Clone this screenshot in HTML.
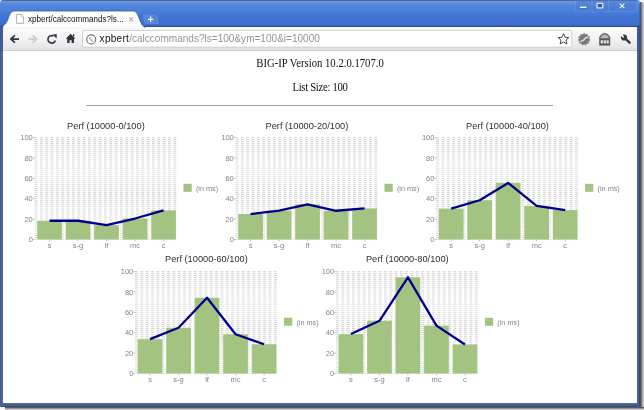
<!DOCTYPE html>
<html lang="en">
<head>
<meta charset="utf-8">
<title>xpbert/calccommands?ls=100&amp;ym=100&amp;i=10000</title>
<style>
html,body{margin:0;padding:0;}
body{width:644px;height:410px;overflow:hidden;background:#f8f5ef;position:relative;font-family:"Liberation Sans",sans-serif;}
#win{position:absolute;left:0;top:0;width:640.4px;height:406.7px;background:#fff;border-radius:3px 4px 0 1.5px;}
#shr{position:absolute;left:640.2px;top:2px;width:3.8px;height:408px;background:linear-gradient(to right,#3c3f49 0,#626266 25%,#9c9ca0 55%,#cacace 85%,#d6d6da 100%);border-radius:0 3px 0 0;}
#shb{position:absolute;left:4.5px;top:406.5px;width:639.5px;height:3.5px;background:linear-gradient(to bottom,#3c3f49 0,#66666a 25%,#a19f9e 55%,#cbc8c4 85%,#d4d0cb 100%);}
#bl{position:absolute;left:0;top:50.5px;width:3.05px;height:355.5px;background:linear-gradient(to right,#3e5c96,#456399 60%,#53709f);z-index:3;}
#br{z-index:3;position:absolute;left:636.8px;top:50.5px;width:3.6px;height:356.2px;background:linear-gradient(to right,#54709f 0,#436192 30%,#3b5680 75%,#36415a 100%);}
#bb{position:absolute;left:0;top:402.8px;width:640.4px;height:3.9px;background:linear-gradient(to bottom,#5875a0 0,#466391 30%,#3d5985 70%,#38445c 100%);border-radius:0 0 0 1.5px;}
#chrome{position:absolute;left:0;top:0;}
#content{position:absolute;left:3px;top:51px;width:633.9px;height:351.8px;background:#fff;}
.pt{position:absolute;left:0;width:634px;text-align:center;transform:scaleY(1.07);transform-origin:50% 80%;font-family:"Liberation Serif",serif;font-size:10.7px;color:#111;line-height:12px;white-space:nowrap;}
#hr{position:absolute;left:82.6px;top:54px;width:467.4px;height:1px;background:#a6a6a6;}
#charts{position:absolute;left:0;top:0;}
.ax{font-family:"Liberation Sans",sans-serif;font-size:7.5px;fill:#848484;}
.tt{font-family:"Liberation Sans",sans-serif;font-size:9.25px;fill:#303030;}
.lg{font-family:"Liberation Sans",sans-serif;font-size:7.3px;fill:#868686;}
.tabtxt{position:absolute;left:28px;top:14.3px;font-size:8.7px;color:#111;white-space:nowrap;line-height:10px;transform:scaleX(0.93);transform-origin:0 50%;}
.url{position:absolute;left:99.6px;top:33.2px;font-size:10.05px;color:#939393;white-space:nowrap;line-height:12px;}
.url .host{color:#111;letter-spacing:0.27px;}
</style>
</head>
<body>
<div id="shr"></div><div id="shb"></div>
<div id="win">
  <div id="bl"></div><div id="br"></div><div id="bb"></div>
  <div id="content">
    <div class="pt" style="top:5.9px;font-size:10.68px">BIG-IP Version 10.2.0.1707.0</div>
    <div class="pt" style="top:30.3px;letter-spacing:-0.3px">List Size: 100</div>
    <div id="hr"></div>
  </div>
  
<svg id="chrome" width="644" height="51" viewBox="0 0 644 51">
<defs>
<linearGradient id="tb" x1="0" y1="0" x2="0" y2="1">
<stop offset="0" stop-color="#46619a"/>
<stop offset="0.025" stop-color="#4b6aa8"/>
<stop offset="0.05" stop-color="#6d97dc"/>
<stop offset="0.09" stop-color="#6591d9"/>
<stop offset="0.19" stop-color="#5189de"/>
<stop offset="0.4" stop-color="#4a80da"/>
<stop offset="0.6" stop-color="#4275d4"/>
<stop offset="0.9" stop-color="#3e6ece"/>
<stop offset="0.94" stop-color="#3a68c4"/>
<stop offset="0.96" stop-color="#2d4d92"/>
<stop offset="1" stop-color="#2d4d92"/>
</linearGradient>
<linearGradient id="tool" x1="0" y1="0" x2="0" y2="1">
<stop offset="0" stop-color="#fdfdfe"/>
<stop offset="0.5" stop-color="#f3f3f4"/>
<stop offset="1" stop-color="#e3e3e4"/>
</linearGradient>
</defs>
<!-- title bar -->

<path d="M0 27.1V3Q0 0 3 0H636.5Q640.4 0 640.4 4V27.1Z" fill="url(#tb)"/>

<!-- side borders beside toolbar -->
<rect x="0" y="27" width="3.05" height="24" fill="#3c5ca2"/>
<rect x="636.8" y="27" width="3.6" height="24" fill="#3a5a9e"/>
<rect x="639.6" y="4" width="0.8" height="47" fill="#33466e" opacity="0.8"/>
<!-- toolbar -->
<rect x="3" y="27.1" width="634" height="23.1" fill="url(#tool)"/>
<rect x="3" y="49.8" width="634" height="1.3" fill="#cfcfd0"/>
<!-- tab -->
<path d="M3 27.6 V25.6 C6.5 24 7.2 21 8.6 17.5 C10 13.6 11.2 11 15 11 H132.5 C136.3 11 137.4 13.6 138.8 17.5 C140.2 21 141.4 25 144.8 27.6 Z" fill="#fcfcfd" stroke="#2e4e94" stroke-width="0.7"/>
<rect x="3.2" y="26.9" width="141" height="1.4" fill="#fcfcfd"/>
<!-- page icon -->
<path d="M16.6 14.4 H21.2 L23.6 16.9 V23.3 H16.6 Z" fill="#fff" stroke="#9b9b9b" stroke-width="0.8"/>
<path d="M21 14.6 V17.1 H23.4" fill="none" stroke="#b5b5b5" stroke-width="0.6"/>
<!-- tab close -->
<path d="M129.1 17.3 L133.2 21.4 M133.2 17.3 L129.1 21.4" stroke="#a9a9a9" stroke-width="1.1" fill="none"/>
<!-- new tab button -->
<path d="M143.4 15 H155 C156.4 15 157 16 157.4 17.4 L158.6 22 C158.9 23 158.4 23.4 157.4 23.4 H146.6 C145.4 23.4 144.8 22.6 144.4 21.4 Z" fill="#5c8bdc" stroke="#7fa5e6" stroke-width="0.5" opacity="0.75"/>
<path d="M150.6 16.6 V22 M147.9 19.3 H153.3" stroke="#fff" stroke-width="1.2" fill="none"/>
<!-- window buttons -->
<path d="M575.5 0 V10.2 Q575.5 11.3 576.8 11.3 H635 Q636.4 11.3 636.4 10 V0" fill="#4a78cf" fill-opacity="0.45" stroke="#7ea2e2" stroke-opacity="0.7" stroke-width="0.6"/>
<path d="M591.8 0V11.3 M608.4 0V11.3" stroke="#7ea2e2" stroke-opacity="0.7" stroke-width="0.6"/>
<rect x="580" y="6.6" width="6.4" height="1.5" fill="#f4f7fc"/><rect x="580" y="8.1" width="6.4" height="0.7" fill="#2f4f98" opacity="0.7"/>
<rect x="597.0" y="3.3" width="5.8" height="4.6" fill="#3c5ea8" stroke="#eef2fa" stroke-width="1.1"/>
<path d="M619.8 3.6 L624.4 8.2 M624.4 3.6 L619.8 8.2" stroke="#eef2fa" stroke-width="1.2" fill="none"/>
<!-- nav icons -->
<path d="M14.9 35.3 L10.9 39 L14.9 42.7 M11.2 39 H19" fill="none" stroke="#2e3442" stroke-width="1.75" stroke-linejoin="miter"/>
<path d="M32.6 35.3 L36.6 39 L32.6 42.7 M36.3 39 H28.4" fill="none" stroke="#cbcbce" stroke-width="1.75" stroke-linejoin="miter"/>
<path d="M55.3 40.4 A3.75 3.75 0 1 1 53.4 36" fill="none" stroke="#2e3442" stroke-width="1.6"/>
<path d="M52.4 34.4 L56.8 34.3 L56.6 38.6 Z" fill="#2e3442"/>
<path d="M65.8 38.7 L70.6 33.7 L75.4 38.7 H74 V43 H71.6 V40.3 H69.6 V43 H67.2 V38.7 Z" fill="#2e3442"/>
<rect x="73" y="34.1" width="1.3" height="2.4" fill="#2e3442"/>
<!-- omnibox -->
<rect x="82.6" y="30.4" width="489.2" height="16.8" rx="1.6" fill="#fff" stroke="#c3c3c6" stroke-width="0.8"/>
<!-- globe -->
<circle cx="91.2" cy="39.4" r="4.5" fill="#fdfdfd" stroke="#767676" stroke-width="1.15"/>
<path d="M88.6 37.4 Q89.6 36.4 91.2 36.7 Q90.6 37.8 89.9 38 Q90.4 39.2 91.4 39.6 Q92.8 40 93.2 41.4 Q92.2 42.2 91.4 41.6 Q90.8 40.4 89.6 39.8 Q88.6 38.8 88.6 37.4 Z" fill="#b9b9b9"/>
<!-- star -->
<path d="M563.5 33.7 L565.05 37.3 L568.9 37.6 L566 40.15 L566.9 44 L563.5 42 L560.1 44 L561 40.15 L558.1 37.6 L561.95 37.3 Z" fill="#fff" stroke="#3c3c3c" stroke-width="0.95" stroke-linejoin="round"/>
<!-- gear extension -->
<path d="M584.10 33.10 L585.48 34.60 L587.45 34.08 L587.80 36.09 L589.74 36.72 L588.95 38.60 L590.24 40.18 L588.56 41.34 L588.79 43.36 L586.75 43.42 L585.85 45.25 L584.10 44.20 L582.35 45.25 L581.45 43.42 L579.41 43.36 L579.64 41.34 L577.96 40.18 L579.25 38.60 L578.46 36.72 L580.40 36.09 L580.75 34.08 L582.72 34.60Z" fill="#828286" stroke="#8f8f93" stroke-width="0.6" stroke-linejoin="round"/>
<circle cx="584.1" cy="39.3" r="4.2" fill="#77777c"/>
<path d="M581.2 41.3 Q583.4 40.9 584.4 39.2 Q585.4 37.4 587.6 37.3" fill="none" stroke="#eeeef2" stroke-width="1.5" stroke-linecap="round" opacity="0.9"/>
<!-- box extension -->
<path d="M599.5 37.1 L601.6 34.4 L604.7 33.2 L607.8 34.4 L609.9 37.1 V45.3 H599.5 Z" fill="#58585b" stroke="#4a4a4d" stroke-width="0.5" stroke-linejoin="round"/>
<path d="M600.6 37.3 L602.2 35.2 L604.7 34.3 L607.2 35.2 L608.8 37.3 V38.3 H600.6 Z" fill="#b9b9bc"/>
<rect x="600.7" y="40.3" width="2.3" height="3.1" fill="#e4e4e6"/>
<rect x="603.6" y="40.3" width="2.3" height="3.1" fill="#e4e4e6"/>
<rect x="606.5" y="40.3" width="2.3" height="3.1" fill="#e4e4e6"/>
<!-- wrench -->
<path d="M625.1 38.4 L629.6 42.7" stroke="#343c4e" stroke-width="2.5" stroke-linecap="round" fill="none"/>
<circle cx="624" cy="37.5" r="3.1" fill="#343c4e"/>
<path d="M623.8 37.3 L619.9 35.7 L622.1 33.3 Z" fill="#f5f5f6"/>
<circle cx="623.2" cy="36.7" r="0.9" fill="#f5f5f6"/>
</svg>

  <div class="tabtxt">xpbert/calccommands?ls...</div>
  <div class="url"><span class="host">xpbert</span>/calccommands?ls=100&amp;ym=100&amp;i=10000</div>
</div>
<svg id="charts" width="644" height="410" viewBox="0 0 644 410">
<defs>
<pattern id="grid" width="5.34" height="2.038" patternUnits="userSpaceOnUse" x="34.5" y="137.1">
<rect x="0" y="0" width="3.0" height="0.9" fill="#d2d2d2"/>
</pattern>
</defs>
<g transform="translate(0,0)">
<rect x="34.3" y="137.1" width="142.40" height="102.40" fill="url(#grid)"/>
<path d="M34.3 239.5H176.7" fill="none" stroke="#dcdcdc" stroke-width="0.5"/>
<path d="M33 239.50H34.9" stroke="#aaa" stroke-width="0.7"/>
<text x="32.8" y="242.15" text-anchor="end" class="ax">0</text>
<path d="M33 219.12H34.9" stroke="#aaa" stroke-width="0.7"/>
<text x="32.8" y="221.77" text-anchor="end" class="ax">20</text>
<path d="M33 198.74H34.9" stroke="#aaa" stroke-width="0.7"/>
<text x="32.8" y="201.39" text-anchor="end" class="ax">40</text>
<path d="M33 178.36H34.9" stroke="#aaa" stroke-width="0.7"/>
<text x="32.8" y="181.01" text-anchor="end" class="ax">60</text>
<path d="M33 157.98H34.9" stroke="#aaa" stroke-width="0.7"/>
<text x="32.8" y="160.63" text-anchor="end" class="ax">80</text>
<path d="M33 137.60H34.9" stroke="#aaa" stroke-width="0.7"/>
<text x="32.8" y="140.25" text-anchor="end" class="ax">100</text>
<rect x="37.20" y="220.75" width="24.7" height="18.75" fill="#a2c480"/>
<path d="M49.55 239.5v1.8" stroke="#aaa" stroke-width="0.7"/>
<text x="49.55" y="248.30" text-anchor="middle" class="ax">s</text>
<rect x="65.70" y="220.75" width="24.7" height="18.75" fill="#a2c480"/>
<path d="M78.05 239.5v1.8" stroke="#aaa" stroke-width="0.7"/>
<text x="78.05" y="248.30" text-anchor="middle" class="ax">s-g</text>
<rect x="94.20" y="225.23" width="24.7" height="14.27" fill="#a2c480"/>
<path d="M106.55 239.5v1.8" stroke="#aaa" stroke-width="0.7"/>
<text x="106.55" y="248.30" text-anchor="middle" class="ax">lf</text>
<rect x="122.70" y="218.51" width="24.7" height="20.99" fill="#a2c480"/>
<path d="M135.05 239.5v1.8" stroke="#aaa" stroke-width="0.7"/>
<text x="135.05" y="248.30" text-anchor="middle" class="ax">mc</text>
<rect x="151.20" y="210.36" width="24.7" height="29.14" fill="#a2c480"/>
<path d="M163.55 239.5v1.8" stroke="#aaa" stroke-width="0.7"/>
<text x="163.55" y="248.30" text-anchor="middle" class="ax">c</text>
<polyline points="49.55,220.75 78.05,220.75 106.55,225.23 135.05,218.51 163.55,210.36" fill="none" stroke="#00008f" stroke-width="2.3" stroke-linejoin="round" stroke-linecap="butt"/>
<text x="105.9" y="128.8" text-anchor="middle" class="tt">Perf (10000-0/100)</text>
<rect x="183.5" y="183.8" width="8.2" height="8" fill="#a2c480"/>
<text x="195.9" y="190.6" class="lg">(in ms)</text>
</g>
<g transform="translate(201,0)">
<rect x="34.3" y="137.1" width="142.40" height="102.40" fill="url(#grid)"/>
<path d="M34.3 239.5H176.7" fill="none" stroke="#dcdcdc" stroke-width="0.5"/>
<path d="M33 239.50H34.9" stroke="#aaa" stroke-width="0.7"/>
<text x="32.8" y="242.15" text-anchor="end" class="ax">0</text>
<path d="M33 219.12H34.9" stroke="#aaa" stroke-width="0.7"/>
<text x="32.8" y="221.77" text-anchor="end" class="ax">20</text>
<path d="M33 198.74H34.9" stroke="#aaa" stroke-width="0.7"/>
<text x="32.8" y="201.39" text-anchor="end" class="ax">40</text>
<path d="M33 178.36H34.9" stroke="#aaa" stroke-width="0.7"/>
<text x="32.8" y="181.01" text-anchor="end" class="ax">60</text>
<path d="M33 157.98H34.9" stroke="#aaa" stroke-width="0.7"/>
<text x="32.8" y="160.63" text-anchor="end" class="ax">80</text>
<path d="M33 137.60H34.9" stroke="#aaa" stroke-width="0.7"/>
<text x="32.8" y="140.25" text-anchor="end" class="ax">100</text>
<rect x="37.20" y="214.03" width="24.7" height="25.48" fill="#a2c480"/>
<path d="M49.55 239.5v1.8" stroke="#aaa" stroke-width="0.7"/>
<text x="49.55" y="248.30" text-anchor="middle" class="ax">s</text>
<rect x="65.70" y="210.66" width="24.7" height="28.84" fill="#a2c480"/>
<path d="M78.05 239.5v1.8" stroke="#aaa" stroke-width="0.7"/>
<text x="78.05" y="248.30" text-anchor="middle" class="ax">s-g</text>
<rect x="94.20" y="204.34" width="24.7" height="35.16" fill="#a2c480"/>
<path d="M106.55 239.5v1.8" stroke="#aaa" stroke-width="0.7"/>
<text x="106.55" y="248.30" text-anchor="middle" class="ax">lf</text>
<rect x="122.70" y="210.76" width="24.7" height="28.74" fill="#a2c480"/>
<path d="M135.05 239.5v1.8" stroke="#aaa" stroke-width="0.7"/>
<text x="135.05" y="248.30" text-anchor="middle" class="ax">mc</text>
<rect x="151.20" y="208.42" width="24.7" height="31.08" fill="#a2c480"/>
<path d="M163.55 239.5v1.8" stroke="#aaa" stroke-width="0.7"/>
<text x="163.55" y="248.30" text-anchor="middle" class="ax">c</text>
<polyline points="49.55,214.03 78.05,210.66 106.55,204.34 135.05,210.76 163.55,208.42" fill="none" stroke="#00008f" stroke-width="2.3" stroke-linejoin="round" stroke-linecap="butt"/>
<text x="105.9" y="128.8" text-anchor="middle" class="tt">Perf (10000-20/100)</text>
<rect x="183.5" y="183.8" width="8.2" height="8" fill="#a2c480"/>
<text x="195.9" y="190.6" class="lg">(in ms)</text>
</g>
<g transform="translate(401.6,0)">
<rect x="34.3" y="137.1" width="142.40" height="102.40" fill="url(#grid)"/>
<path d="M34.3 239.5H176.7" fill="none" stroke="#dcdcdc" stroke-width="0.5"/>
<path d="M33 239.50H34.9" stroke="#aaa" stroke-width="0.7"/>
<text x="32.8" y="242.15" text-anchor="end" class="ax">0</text>
<path d="M33 219.12H34.9" stroke="#aaa" stroke-width="0.7"/>
<text x="32.8" y="221.77" text-anchor="end" class="ax">20</text>
<path d="M33 198.74H34.9" stroke="#aaa" stroke-width="0.7"/>
<text x="32.8" y="201.39" text-anchor="end" class="ax">40</text>
<path d="M33 178.36H34.9" stroke="#aaa" stroke-width="0.7"/>
<text x="32.8" y="181.01" text-anchor="end" class="ax">60</text>
<path d="M33 157.98H34.9" stroke="#aaa" stroke-width="0.7"/>
<text x="32.8" y="160.63" text-anchor="end" class="ax">80</text>
<path d="M33 137.60H34.9" stroke="#aaa" stroke-width="0.7"/>
<text x="32.8" y="140.25" text-anchor="end" class="ax">100</text>
<rect x="37.20" y="208.62" width="24.7" height="30.88" fill="#a2c480"/>
<path d="M49.55 239.5v1.8" stroke="#aaa" stroke-width="0.7"/>
<text x="49.55" y="248.30" text-anchor="middle" class="ax">s</text>
<rect x="65.70" y="200.27" width="24.7" height="39.23" fill="#a2c480"/>
<path d="M78.05 239.5v1.8" stroke="#aaa" stroke-width="0.7"/>
<text x="78.05" y="248.30" text-anchor="middle" class="ax">s-g</text>
<rect x="94.20" y="182.95" width="24.7" height="56.55" fill="#a2c480"/>
<path d="M106.55 239.5v1.8" stroke="#aaa" stroke-width="0.7"/>
<text x="106.55" y="248.30" text-anchor="middle" class="ax">lf</text>
<rect x="122.70" y="205.87" width="24.7" height="33.63" fill="#a2c480"/>
<path d="M135.05 239.5v1.8" stroke="#aaa" stroke-width="0.7"/>
<text x="135.05" y="248.30" text-anchor="middle" class="ax">mc</text>
<rect x="151.20" y="210.05" width="24.7" height="29.45" fill="#a2c480"/>
<path d="M163.55 239.5v1.8" stroke="#aaa" stroke-width="0.7"/>
<text x="163.55" y="248.30" text-anchor="middle" class="ax">c</text>
<polyline points="49.55,208.62 78.05,200.27 106.55,182.95 135.05,205.87 163.55,210.05" fill="none" stroke="#00008f" stroke-width="2.3" stroke-linejoin="round" stroke-linecap="butt"/>
<text x="105.9" y="128.8" text-anchor="middle" class="tt">Perf (10000-40/100)</text>
<rect x="183.5" y="183.8" width="8.2" height="8" fill="#a2c480"/>
<text x="195.9" y="190.6" class="lg">(in ms)</text>
</g>
<g transform="translate(100.5,134)">
<rect x="34.3" y="137.1" width="142.40" height="102.40" fill="url(#grid)"/>
<path d="M34.3 239.5H176.7" fill="none" stroke="#dcdcdc" stroke-width="0.5"/>
<path d="M33 239.50H34.9" stroke="#aaa" stroke-width="0.7"/>
<text x="32.8" y="242.15" text-anchor="end" class="ax">0</text>
<path d="M33 219.12H34.9" stroke="#aaa" stroke-width="0.7"/>
<text x="32.8" y="221.77" text-anchor="end" class="ax">20</text>
<path d="M33 198.74H34.9" stroke="#aaa" stroke-width="0.7"/>
<text x="32.8" y="201.39" text-anchor="end" class="ax">40</text>
<path d="M33 178.36H34.9" stroke="#aaa" stroke-width="0.7"/>
<text x="32.8" y="181.01" text-anchor="end" class="ax">60</text>
<path d="M33 157.98H34.9" stroke="#aaa" stroke-width="0.7"/>
<text x="32.8" y="160.63" text-anchor="end" class="ax">80</text>
<path d="M33 137.60H34.9" stroke="#aaa" stroke-width="0.7"/>
<text x="32.8" y="140.25" text-anchor="end" class="ax">100</text>
<rect x="37.20" y="205.16" width="24.7" height="34.34" fill="#a2c480"/>
<path d="M49.55 239.5v1.8" stroke="#aaa" stroke-width="0.7"/>
<text x="49.55" y="248.30" text-anchor="middle" class="ax">s</text>
<rect x="65.70" y="193.75" width="24.7" height="45.75" fill="#a2c480"/>
<path d="M78.05 239.5v1.8" stroke="#aaa" stroke-width="0.7"/>
<text x="78.05" y="248.30" text-anchor="middle" class="ax">s-g</text>
<rect x="94.20" y="163.79" width="24.7" height="75.71" fill="#a2c480"/>
<path d="M106.55 239.5v1.8" stroke="#aaa" stroke-width="0.7"/>
<text x="106.55" y="248.30" text-anchor="middle" class="ax">lf</text>
<rect x="122.70" y="200.27" width="24.7" height="39.23" fill="#a2c480"/>
<path d="M135.05 239.5v1.8" stroke="#aaa" stroke-width="0.7"/>
<text x="135.05" y="248.30" text-anchor="middle" class="ax">mc</text>
<rect x="151.20" y="210.25" width="24.7" height="29.25" fill="#a2c480"/>
<path d="M163.55 239.5v1.8" stroke="#aaa" stroke-width="0.7"/>
<text x="163.55" y="248.30" text-anchor="middle" class="ax">c</text>
<polyline points="49.55,205.16 78.05,193.75 106.55,163.79 135.05,200.27 163.55,210.25" fill="none" stroke="#00008f" stroke-width="2.3" stroke-linejoin="round" stroke-linecap="butt"/>
<text x="105.9" y="128.20000000000002" text-anchor="middle" class="tt">Perf (10000-60/100)</text>
<rect x="183.5" y="183.8" width="8.2" height="8" fill="#a2c480"/>
<text x="195.9" y="190.6" class="lg">(in ms)</text>
</g>
<g transform="translate(301.4,134)">
<rect x="34.3" y="137.1" width="142.40" height="102.40" fill="url(#grid)"/>
<path d="M34.3 239.5H176.7" fill="none" stroke="#dcdcdc" stroke-width="0.5"/>
<path d="M33 239.50H34.9" stroke="#aaa" stroke-width="0.7"/>
<text x="32.8" y="242.15" text-anchor="end" class="ax">0</text>
<path d="M33 219.12H34.9" stroke="#aaa" stroke-width="0.7"/>
<text x="32.8" y="221.77" text-anchor="end" class="ax">20</text>
<path d="M33 198.74H34.9" stroke="#aaa" stroke-width="0.7"/>
<text x="32.8" y="201.39" text-anchor="end" class="ax">40</text>
<path d="M33 178.36H34.9" stroke="#aaa" stroke-width="0.7"/>
<text x="32.8" y="181.01" text-anchor="end" class="ax">60</text>
<path d="M33 157.98H34.9" stroke="#aaa" stroke-width="0.7"/>
<text x="32.8" y="160.63" text-anchor="end" class="ax">80</text>
<path d="M33 137.60H34.9" stroke="#aaa" stroke-width="0.7"/>
<text x="32.8" y="140.25" text-anchor="end" class="ax">100</text>
<rect x="37.20" y="200.06" width="24.7" height="39.44" fill="#a2c480"/>
<path d="M49.55 239.5v1.8" stroke="#aaa" stroke-width="0.7"/>
<text x="49.55" y="248.30" text-anchor="middle" class="ax">s</text>
<rect x="65.70" y="186.82" width="24.7" height="52.68" fill="#a2c480"/>
<path d="M78.05 239.5v1.8" stroke="#aaa" stroke-width="0.7"/>
<text x="78.05" y="248.30" text-anchor="middle" class="ax">s-g</text>
<rect x="94.20" y="143.31" width="24.7" height="96.19" fill="#a2c480"/>
<path d="M106.55 239.5v1.8" stroke="#aaa" stroke-width="0.7"/>
<text x="106.55" y="248.30" text-anchor="middle" class="ax">lf</text>
<rect x="122.70" y="191.61" width="24.7" height="47.89" fill="#a2c480"/>
<path d="M135.05 239.5v1.8" stroke="#aaa" stroke-width="0.7"/>
<text x="135.05" y="248.30" text-anchor="middle" class="ax">mc</text>
<rect x="151.20" y="210.46" width="24.7" height="29.04" fill="#a2c480"/>
<path d="M163.55 239.5v1.8" stroke="#aaa" stroke-width="0.7"/>
<text x="163.55" y="248.30" text-anchor="middle" class="ax">c</text>
<polyline points="49.55,200.06 78.05,186.82 106.55,143.31 135.05,191.61 163.55,210.46" fill="none" stroke="#00008f" stroke-width="2.3" stroke-linejoin="round" stroke-linecap="butt"/>
<text x="105.9" y="128.20000000000002" text-anchor="middle" class="tt">Perf (10000-80/100)</text>
<rect x="183.5" y="183.8" width="8.2" height="8" fill="#a2c480"/>
<text x="195.9" y="190.6" class="lg">(in ms)</text>
</g>
</svg>
</body>
</html>
